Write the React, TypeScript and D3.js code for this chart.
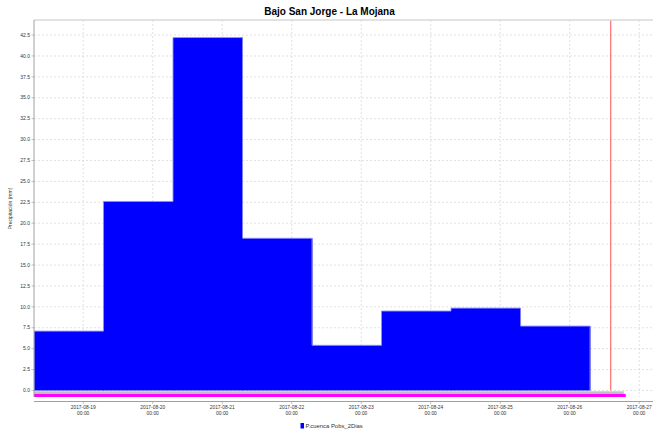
import React from "react";
import * as d3 from "d3";

const title = "Bajo San Jorge - La Mojana";
const yLabel = "Precipitación (mm)";
const seriesName = "P.cuenca Pobs_2Dias";

// bar periods (start of each 1-day accumulation) and values (mm)
const periodStarts = [
  "2017-08-18 07:00",
  "2017-08-19 07:00",
  "2017-08-20 07:00",
  "2017-08-21 07:00",
  "2017-08-22 07:00",
  "2017-08-23 07:00",
  "2017-08-24 07:00",
  "2017-08-25 07:00",
];
const periodEnds = [
  "2017-08-19 07:00",
  "2017-08-20 07:00",
  "2017-08-21 07:00",
  "2017-08-22 07:00",
  "2017-08-23 07:00",
  "2017-08-24 07:00",
  "2017-08-25 07:00",
  "2017-08-26 07:00",
];
const values = [7.1, 22.6, 42.2, 18.2, 5.4, 9.5, 9.85, 7.7];

const xDomain = ["2017-08-18 07:00", "2017-08-27 07:00"];
const yDomain = [-0.78, 44.3];
const yTicks = [0, 2.5, 5, 7.5, 10, 12.5, 15, 17.5, 20, 22.5, 25, 27.5, 30, 32.5, 35, 37.5, 40, 42.5];
const xTicks = [
  "2017-08-19 00:00",
  "2017-08-20 00:00",
  "2017-08-21 00:00",
  "2017-08-22 00:00",
  "2017-08-23 00:00",
  "2017-08-24 00:00",
  "2017-08-25 00:00",
  "2017-08-26 00:00",
  "2017-08-27 00:00",
];
const nowMarker = "2017-08-26 14:10";
// zero-level helper strips below the axis
const grayStrip = { start: "2017-08-18 07:00", end: "2017-08-26 18:40", y0: -0.1, y1: -0.42 };
const magentaStrip = { start: "2017-08-18 07:00", end: "2017-08-26 19:20", y0: -0.42, y1: -0.78 };

const parse = d3.utcParse("%Y-%m-%d %H:%M");
const fmtDate = d3.utcFormat("%Y-%m-%d");
const fmtTime = d3.utcFormat("%H:%M");

const W = 653;
const H = 436;
const plot = { left: 34, right: 659.5, top: 20, bottom: 397 };
const xAxisY = 401.5;

export default function App() {
  const x = d3
    .scaleUtc()
    .domain(xDomain.map((s) => parse(s) as Date))
    .range([plot.left, plot.right]);
  const y = d3.scaleLinear().domain(yDomain).range([plot.bottom, plot.top]);

  const font = "'Liberation Sans', Arial, sans-serif";
  const stripX = (s: string) => x(parse(s) as Date);

  // step outline points
  const outlinePts: [number, number][] = [];
  outlinePts.push([x(parse(periodStarts[0]) as Date), y(0)]);
  values.forEach((v, i) => {
    outlinePts.push([x(parse(periodStarts[i]) as Date), y(v)]);
    outlinePts.push([x(parse(periodEnds[i]) as Date), y(v)]);
  });
  outlinePts.push([x(parse(periodEnds[values.length - 1]) as Date), y(0)]);
  const outline = d3.line()(outlinePts) || "";

  return (
    <svg
      width={W}
      height={H}
      style={{ position: "absolute", left: 0, top: 0, background: "#fff" }}
      fontFamily={font}
    >
      <defs>
        <clipPath id="plotclip">
          <rect x={plot.left} y={plot.top} width={plot.right - plot.left} height={plot.bottom - plot.top} />
        </clipPath>
      </defs>
      {/* title */}
      <text x={W / 2 + 3} y={15} textAnchor="middle" fontSize={10} fontWeight="bold" fill="#000">
        {title}
      </text>

      {/* gridlines */}
      <g stroke="#d4d4d4" strokeWidth={0.7} strokeDasharray="2,2">
        {yTicks.map((t) => (
          <line key={"gy" + t} x1={plot.left} x2={plot.right} y1={y(t)} y2={y(t)} />
        ))}
        {xTicks.map((t) => (
          <line key={"gx" + t} x1={x(parse(t) as Date)} x2={x(parse(t) as Date)} y1={plot.top} y2={plot.bottom} />
        ))}
      </g>

      {/* bars */}
      <g clipPath="url(#plotclip)">
        {values.map((v, i) => {
          const x0 = x(parse(periodStarts[i]) as Date);
          const x1 = x(parse(periodEnds[i]) as Date);
          return (
            <rect
              key={i}
              x={x0}
              y={y(v)}
              width={x1 - x0 + 0.5}
              height={y(0) - y(v)}
              fill="#0000ff"
            />
          );
        })}
        <path d={outline} fill="none" stroke="#8c8cff" strokeWidth={0.9} />
        <rect
          x={stripX(grayStrip.start)}
          y={y(grayStrip.y0)}
          width={stripX(grayStrip.end) - stripX(grayStrip.start)}
          height={y(grayStrip.y1) - y(grayStrip.y0)}
          fill="#c0c0c0"
        />
        <rect
          x={stripX(magentaStrip.start)}
          y={y(magentaStrip.y0)}
          width={stripX(magentaStrip.end) - stripX(magentaStrip.start)}
          height={y(magentaStrip.y1) - y(magentaStrip.y0)}
          fill="#ff00ff"
        />
        <line
          x1={stripX(nowMarker)}
          x2={stripX(nowMarker)}
          y1={plot.top}
          y2={y(0)}
          stroke="#ff5050"
          strokeWidth={1}
        />
      </g>

      {/* plot border top */}
      <line x1={plot.left} x2={W} y1={plot.top} y2={plot.top} stroke="#d8d8d8" strokeWidth={1.5} />

      {/* y axis */}
      <line x1={plot.left} x2={plot.left} y1={plot.top} y2={plot.bottom} stroke="#a0a0a0" strokeWidth={1} />
      <g fontSize={5} fill="#333">
        {yTicks.map((t) => (
          <g key={"yt" + t}>
            <line x1={plot.left - 2.5} x2={plot.left} y1={y(t)} y2={y(t)} stroke="#999" strokeWidth={0.6} />
            <text x={plot.left - 4} y={y(t) + 1.7} textAnchor="end">
              {t.toFixed(1)}
            </text>
          </g>
        ))}
      </g>
      <text
        transform={`translate(12, ${(plot.top + plot.bottom) / 2}) rotate(-90)`}
        textAnchor="middle"
        fontSize={5}
        fill="#333"
      >
        {yLabel}
      </text>

      {/* x axis */}
      <line x1={plot.left} x2={W} y1={xAxisY} y2={xAxisY} stroke="#a0a0a0" strokeWidth={1} />
      <g fontSize={4.9} fill="#333" textAnchor="middle">
        {xTicks.map((t) => {
          const d = parse(t) as Date;
          const px = x(d);
          return (
            <g key={"xt" + t}>
              <line x1={px} x2={px} y1={xAxisY} y2={xAxisY + 2.5} stroke="#999" strokeWidth={0.6} />
              <text x={px} y={xAxisY + 7}>
                {fmtDate(d)}
              </text>
              <text x={px} y={xAxisY + 13.7}>
                {fmtTime(d)}
              </text>
            </g>
          );
        })}
      </g>

      {/* legend */}
      <rect x={300.5} y={423} width={3.5} height={5.5} fill="#0000ff" />
      <text x={305.5} y={428} fontSize={5.9} fill="#333">
        {seriesName}
      </text>
    </svg>
  );
}
